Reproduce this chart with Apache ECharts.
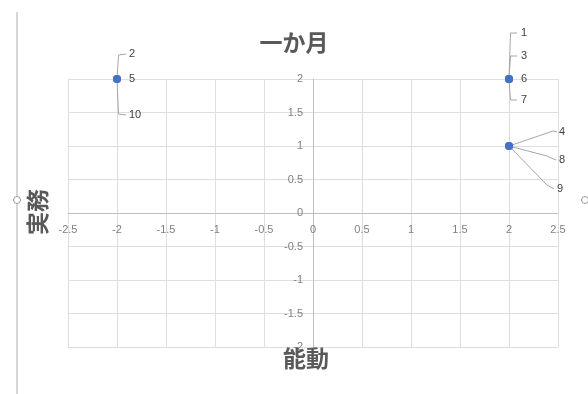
<!DOCTYPE html>
<html>
<head>
<meta charset="utf-8">
<script src="https://cdn.jsdelivr.net/npm/echarts@6/dist/echarts.min.js"></script>
<style>
  html, body { margin: 0; padding: 0; background: #fff; }
  #chart { width: 588px; height: 394px; }
</style>
</head>
<body>
<div id="chart"></div>
<script>
// item ids and their scores
const ids = ['1', '2', '3', '4', '5', '6', '7', '8', '9', '10'];
const noudou = [2, -2, 2, 2, -2, 2, 2, 2, 2, -2];   // x: 能動
const jitsumu = [2, 2, 2, 1, 2, 2, 2, 1, 1, 2];     // y: 実務

const xTicks = { min: -2.5, max: 2.5, interval: 0.5 };
const yTicks = { min: -2, max: 2, interval: 0.5 };

// leader line layout per label (pixels from the dot) - like Excel's dragged labels
// ax/ey = elbow, bx/dy = end of line, lx = label left
const leader = {
  '2':  { ax: 1.5, ey: -24, bx: 9, dy: -25, lx: 12 },
  '5':  { ax: 0, ey: 0, bx: 0, dy: 0, lx: 12 },
  '10': { ax: 1.5, ey: 35, bx: 9, dy: 36, lx: 12 },
  '1':  { ax: 1.5, ey: -46, bx: 8, dy: -46, lx: 12 },
  '3':  { ax: 1.5, ey: -23, bx: 8, dy: -23, lx: 12 },
  '6':  { ax: 0, ey: 0, bx: 0, dy: 0, lx: 12 },
  '7':  { ax: 1.5, ey: 21, bx: 8, dy: 21, lx: 12 },
  '4':  { ax: 44, ey: -15, bx: 48, dy: -14, lx: 50 },
  '8':  { ax: 38, ey: 10, bx: 47, dy: 14, lx: 50 },
  '9':  { ax: 38, ey: 39, bx: 45, dy: 43, lx: 48 }
};

const W = 588, H = 394;
const gridBox = { left: 68, right: 30, top: 79, bottom: 47 };
const plotW = W - gridBox.left - gridBox.right;
const plotH = H - gridBox.top - gridBox.bottom;
// move the axes (with their labels) onto the zero lines, as Excel does
const xOffset = -plotH * (0 - yTicks.min) / (yTicks.max - yTicks.min);
const yOffset = -plotW * (0 - xTicks.min) / (xTicks.max - xTicks.min);

const chart = echarts.init(document.getElementById('chart'));

const axisText = { color: '#808080', fontSize: 11, fontFamily: 'Liberation Sans' };
const titleFont = { color: '#595959', fontSize: 23, fontWeight: 'bold', fontFamily: 'Noto Sans CJK JP' };

chart.setOption({
  animation: false,
  title: [
    { text: '一か月', left: 'center', top: 26, textStyle: titleFont },
    { text: '能動', left: 278, top: 342, textStyle: titleFont }
  ],
  grid: Object.assign({ containLabel: false }, gridBox),
  xAxis: {
    type: 'value',
    min: xTicks.min, max: xTicks.max, interval: xTicks.interval,
    offset: xOffset,
    axisLine: { onZero: false, lineStyle: { color: '#bfbfbf' } },
    axisTick: { show: false },
    axisLabel: Object.assign({ margin: 11 }, axisText),
    splitLine: { lineStyle: { color: '#dedede' } }
  },
  yAxis: {
    type: 'value',
    min: yTicks.min, max: yTicks.max, interval: yTicks.interval,
    offset: yOffset,
    axisLine: { show: true, onZero: false, lineStyle: { color: '#bfbfbf' } },
    axisTick: { show: false },
    axisLabel: Object.assign({ margin: 10 }, axisText),
    splitLine: { lineStyle: { color: '#dedede' } }
  },
  graphic: [
    {
      type: 'text', x: 37, y: 212, rotation: Math.PI / 2,
      style: {
        text: '実務', fill: '#595959', fontSize: 23, fontWeight: 'bold',
        fontFamily: 'Noto Sans CJK JP', align: 'center', verticalAlign: 'middle'
      }
    },
    // frame edge left over from the screenshot
    { type: 'line', shape: { x1: 17, y1: 12, x2: 17, y2: 394 }, style: { stroke: '#c8c8c8', lineWidth: 1.5 } },
    { type: 'circle', shape: { cx: 17, cy: 200, r: 3.5 }, style: { fill: '#fff', stroke: '#999', lineWidth: 1 } },
    { type: 'circle', shape: { cx: 585, cy: 200, r: 3.5 }, style: { fill: '#fff', stroke: '#999', lineWidth: 1 } }
  ],
  series: [
    {
      type: 'custom',
      data: ids.map((id, i) => [noudou[i], jitsumu[i]]),
      renderItem: function (params, api) {
        const p = api.coord([api.value(0), api.value(1)]);
        const id = ids[params.dataIndex];
        const l = leader[id];
        return {
          type: 'group',
          children: [
            {
              type: 'polyline',
              shape: { points: [[p[0], p[1]], [p[0] + l.ax, p[1] + l.ey], [p[0] + l.bx, p[1] + l.dy]] },
              style: { stroke: '#a6a6a6', lineWidth: 1, fill: null }
            },
            {
              type: 'text',
              x: p[0] + l.lx, y: p[1] + l.dy,
              style: {
                text: id, fill: '#404040', fontSize: 11, fontFamily: 'Liberation Sans',
                align: 'left', verticalAlign: 'middle'
              }
            }
          ]
        };
      },
      z: 3
    },
    {
      type: 'scatter',
      data: ids.map((id, i) => [noudou[i], jitsumu[i]]),
      symbolSize: 8,
      itemStyle: { color: '#4472c4' },
      z: 4
    }
  ]
});
</script>
</body>
</html>
